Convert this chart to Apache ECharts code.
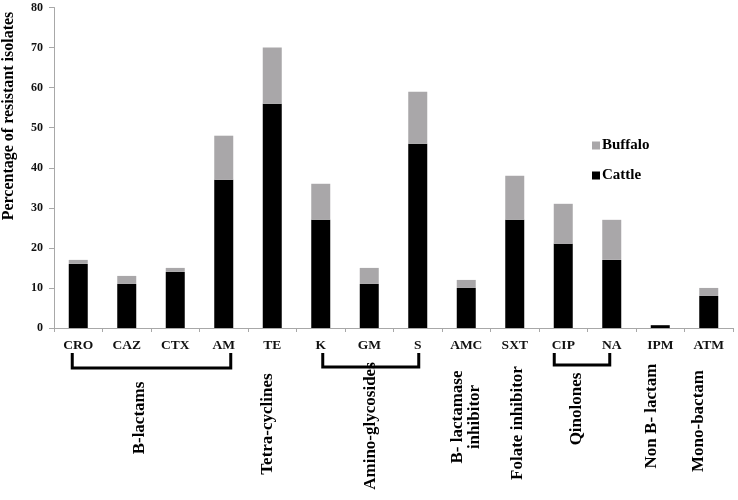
<!DOCTYPE html>
<html><head><meta charset="utf-8">
<script src="https://cdn.jsdelivr.net/npm/echarts@6/dist/echarts.min.js"></script>
<style>html,body{margin:0;padding:0;background:#fff}#c{width:738px;height:500px}</style>
</head><body><div id="c"></div>
<script>
// ---- data ----
const categories = ['CRO','CAZ','CTX','AM','TE','K','GM','S','AMC','SXT','CIP','NA','IPM','ATM'];
const cattle  = [16, 11, 14, 37, 56, 27, 11, 46, 10, 27, 21, 17, 0.7, 8];
const buffalo = [ 1,  2,  1, 11, 14,  9,  4, 13,  2, 11, 10, 10, 0,   2];
const yMin = 0, yMax = 80, yStep = 10;
const seriesNames = ['Cattle', 'Buffalo'];
const groupNames = ['B-lactams','Tetra-cyclines','Amino-glycosides','B- lactamase\ninhibitor','Folate inhibitor','Qinolones','Non B- lactam','Mono-bactam'];
const bracketRanges = [['CRO','AM'],['K','S'],['CIP','NA']];
const yTitle = 'Percentage of resistant isolates';

// ---- layout (pixels / fractional category positions) ----
const groupPos = [1.27, 3.91, 6.02, 8.0, 9.05, 10.28, 11.83, 12.8];
const groupY   = [418, 424, 426, 417, 423, 409, 416, 421];
const bracketOffsets = [[-6, 7, 368], [2, 1, 367], [-9, -2, 365]];
const FONT = '"Liberation Serif", "Times New Roman", serif';

const chart = echarts.init(document.getElementById('c'), null, {renderer: 'canvas'});
chart.setOption({
  animation: false,
  backgroundColor: '#fff',
  grid: {left: 54, right: 5, top: 7.5, bottom: 172, containLabel: false},
  legend: {
    data: ['Buffalo', 'Cattle'], orient: 'vertical', left: 587, top: 133,
    itemWidth: 8, itemHeight: 8, itemGap: 15, icon: 'rect',
    textStyle: {fontFamily: FONT, fontWeight: 'bold', fontSize: 15, color: '#000', padding: [0,0,0,-3]}
  },
  xAxis: {
    type: 'category', data: categories,
    axisLine: {lineStyle: {color: '#a8a8a8', width: 1}},
    axisTick: {show: true, length: 4, alignWithLabel: false, interval: 0, lineStyle: {color: '#a8a8a8'}},
    axisLabel: {interval: 0, margin: 11, fontFamily: FONT, fontWeight: 'bold', fontSize: 13.5, color: '#111'}
  },
  yAxis: {
    type: 'value', min: yMin, max: yMax, interval: yStep,
    splitLine: {show: false},
    axisLine: {show: true, lineStyle: {color: '#a8a8a8', width: 1}},
    axisTick: {show: true, length: 5, lineStyle: {color: '#a8a8a8'}},
    axisLabel: {margin: 11, fontFamily: FONT, fontWeight: 'bold', fontSize: 12, color: '#111'}
  },
  series: [
    {name: seriesNames[0], type: 'bar', stack: 'total', data: cattle, barWidth: 19, itemStyle: {color: '#000'}},
    {name: seriesNames[1], type: 'bar', stack: 'total', data: buffalo, barWidth: 19, itemStyle: {color: '#a9a7a9'}}
  ]
});

function catX(f) {
  const i = Math.floor(f), fr = f - i;
  const a = chart.convertToPixel({xAxisIndex: 0}, categories[Math.min(i, categories.length - 1)]);
  if (fr === 0) return a;
  const b = chart.convertToPixel({xAxisIndex: 0}, categories[Math.min(i + 1, categories.length - 1)]);
  return a + (b - a) * fr;
}

const graphics = [];
graphics.push({
  type: 'text', x: 9, y: 116, rotation: Math.PI / 2,
  style: {text: yTitle, font: 'bold 16px ' + FONT, fill: '#000', align: 'center', verticalAlign: 'middle'}
});
groupNames.forEach((name, k) => {
  graphics.push({
    type: 'text', x: catX(groupPos[k]), y: groupY[k], rotation: Math.PI / 2,
    style: {text: name, font: 'bold 17px ' + FONT, fill: '#000', align: 'center', verticalAlign: 'middle', lineHeight: 17}
  });
});
bracketRanges.forEach((r, k) => {
  const x1 = chart.convertToPixel({xAxisIndex: 0}, r[0]) + bracketOffsets[k][0];
  const x2 = chart.convertToPixel({xAxisIndex: 0}, r[1]) + bracketOffsets[k][1];
  const yb = bracketOffsets[k][2], yt = 353;
  graphics.push({
    type: 'polyline',
    shape: {points: [[x1, yt], [x1, yb], [x2, yb], [x2, yt]]},
    style: {stroke: '#000', lineWidth: 3, fill: null}
  });
});
chart.setOption({graphic: graphics});
</script>
</body></html>
